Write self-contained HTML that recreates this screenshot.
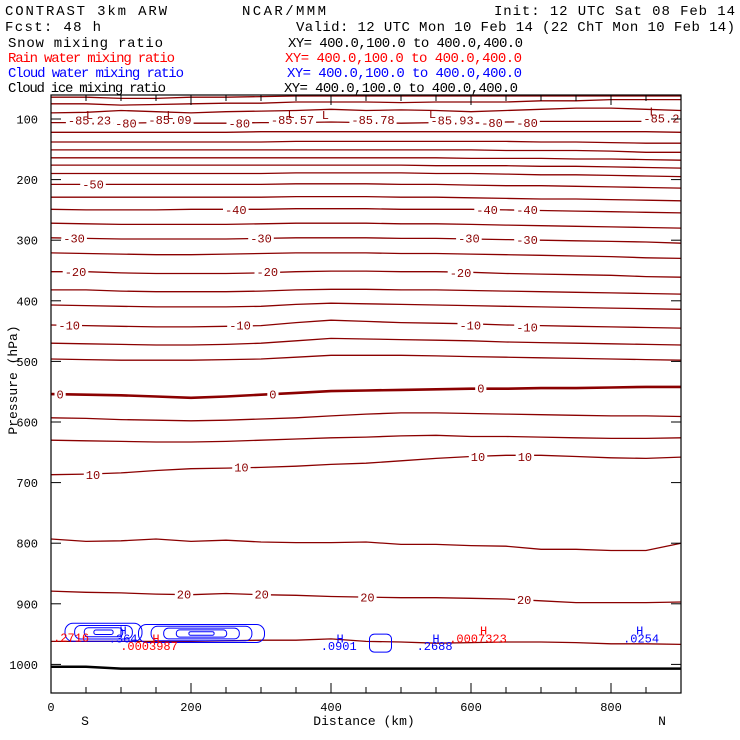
<!DOCTYPE html>
<html><head><meta charset="utf-8"><style>
html,body{margin:0;padding:0;background:#fff;}
svg{display:block;font-family:"Liberation Mono","DejaVu Sans Mono",monospace;}
</style></head><body>
<svg id="chart" width="740" height="740" viewBox="0 0 740 740" xmlns="http://www.w3.org/2000/svg">
<g font-size="14" fill="#000">
<text x="5" y="15" textLength="162">CONTRAST  3km ARW</text>
<text x="242" y="15" textLength="84">NCAR/MMM</text>
<text x="494" y="15" textLength="241">Init: 12 UTC Sat 08 Feb 14</text>
<text x="5" y="31" textLength="96">Fcst:   48 h</text>
<text x="296" y="31" textLength="439">Valid: 12 UTC Mon 10 Feb 14 (22 ChT Mon 10 Feb 14)</text>
<text x="8" y="47" textLength="155">Snow mixing ratio</text>
<text x="288" y="47" textLength="235">XY= 400.0,100.0 to 400.0,400.0</text>
<text x="8" y="62" textLength="167" fill="#ff0000">Rain water mixing ratio</text>
<text x="285" y="62" textLength="237" fill="#ff0000">XY= 400.0,100.0 to 400.0,400.0</text>
<text x="8" y="77" textLength="176" fill="#0000ff">Cloud water mixing ratio</text>
<text x="287" y="77" textLength="235" fill="#0000ff">XY= 400.0,100.0 to 400.0,400.0</text>
<text x="8" y="92" textLength="158">Cloud ice mixing ratio</text>
<text x="284" y="92" textLength="234">XY= 400.0,100.0 to 400.0,400.0</text>
</g>
<g id="plot"></g>
</svg>
<script>
const distances=[0,50,100,150,200,250,300,350,400,450,500,550,600,650,700,750,800,850,900];
const xTicks=[0,200,400,600,800];
const yTicks=[100,200,300,400,500,600,700,800,900,1000];
const line1=[64,64,66,66,64,64,63,62,62,62,62,62,62,62,62,62,62,62,62];
const line2=[75,75,77,76,75,74,74,72,72,72,73,72,72,72,70,70,68,68,68];
const line3=[90,89,86,88,90,88,87,86,84,86,85,86,88,86,84,82,82,84,86];
const line4=[106,106,107,106,107,107,106,106,105,106,107,106,107,105,104,104,104,104,104];
const line5=[122,122,122,122,122,122,121,121,121,121,121,121,121,121,121,121,121,121,122];
const line6=[138,138,138,138,138,138,138,137,137,137,137,137,137,137,138,138,139,140,140];
const line7=[151,151,151,151,151,151,151,151,151,151,151,151,151,152,152,152,153,155,155];
const line8=[164,164,164,164,164,164,164,164,164,164,164,164,165,165,165,166,166,167,168];
const line9=[176,176,176,176,176,176,176,176,176,176,176,177,177,177,178,178,179,180,181];
const line10=[190,190,190,190,190,190,190,189,189,189,189,190,190,191,192,192,193,194,195];
const line11=[208,208,208,208,208,208,208,207,207,207,208,208,209,210,210,211,212,213,214];
const line12=[229,229,229,229,229,229,229,228,228,228,229,229,230,231,232,232,233,234,235];
const line13=[249,250,250,250,249,249,249,248,248,248,249,249,249,250,251,252,253,254,255];
const line14=[272,273,274,274,274,274,273,272,272,272,273,273,274,275,276,277,278,279,280];
const line15=[296,297,298,298,298,298,297,296,296,296,297,297,298,299,300,301,302,303,305];
const line16=[321,322,323,324,324,323,322,321,321,321,322,322,323,324,325,326,327,329,330];
const line17=[352,352,354,355,355,355,354,352,351,351,352,352,353,355,356,357,358,360,361];
const line18=[382,382,384,385,385,385,384,382,381,381,382,382,383,384,385,386,387,388,389];
const line19=[407,408,409,410,410,410,409,406,404,405,406,407,408,409,410,411,412,413,414];
const line20=[440,441,442,443,443,442,441,436,432,434,436,437,438,440,441,442,443,444,445];
const line21=[470,471,472,473,473,472,470,466,462,463,464,465,466,468,469,470,471,472,473];
const line22=[496,497,498,498,498,497,496,493,490,490,490,491,492,493,494,495,496,497,498];
const line0=[554,555,556,558,560,558,555,552,549,548,547,546,545,545,544,544,543,542,542];
const line24=[593,594,596,597,598,597,595,593,590,587,585,585,586,587,588,589,590,590,591];
const line25=[630,631,632,633,633,632,630,628,626,625,623,622,624,624,625,626,627,627,626];
const line26=[687,686,684,680,677,676,675,673,670,668,664,660,657,655,655,657,659,660,658];
const line27=[793,797,796,793,797,795,798,799,799,798,802,802,804,805,810,810,812,812,800];
const line28=[879,881,882,884,885,883,885,886,888,889,890,890,891,892,895,898,898,898,897];
const line29=[962,962,962,962,962,961,960,960,958,962,963,965,964,963,963,964,966,966,967];
const surface=[1004,1004,1007,1007,1007,1007,1007,1007,1007,1007,1007,1007,1007,1007,1007,1007,1007,1007,1007];
const isoLines=[line1,line2,line3,line4,line5,line6,line7,line8,line9,line10,line11,line12,line13,line14,line15,line16,line17,line18,line19,line20,line21,line22,line0,line24,line25,line26,line27,line28,line29];
const labelTexts=["-85.23","-80","-85.09","-80","-85.57","-85.78","-85.93","-80","-80","-85.2","-50","-40","-40","-40","-30","-30","-30","-30","-20","-20","-20","-10","-10","-10","-10","0","0","0","10","10","10","10","20","20","20","20"];
const labelDist=[55,107,170,269,345,460,573,630,680,872,60,264,623,680,33,300,597,680,35,309,585,26,270,599,680,13,317,614,60,272,610,677,190,301,452,676];
const labelPres=[102,107,101,107,101,101,102,106,106,98,207,249,249,249,296,296,296,299,352,352,353,440,440,440,443,554,554,544,687,674,657,657,884,884,889,893];
const lowDist=[55,170,343,392,545,860];
const lowPres=[93,93,92,93,92,88];
const cloudCenters=[75,215];
const cloudWidths=[55,90];
const cloudPres=[947,949];
const cloudLevels=[4,5];
const markText=["H",".364","H",".0901","H",".2688","H",".0254"];
const markDist=[103,103,413,411,550,548,841,843];
const markPres=[944,957,957,970,957,970,944,957];
const redText=["H",".0003987","H",".0007323",".2716"];
const redDist=[150,140,618,610,3];
const redPres=[957,970,944,957,956];

const NS="http://www.w3.org/2000/svg";
const plot=document.getElementById('plot');
const X0=51,X1=681,Y0=95,Y1=693;
const xs=d=>X0+d*0.7;
const ys=p=>119+(p-100)*0.606;
function mk(tag,attrs){const e=document.createElementNS(NS,tag);for(const k in attrs)e.setAttribute(k,attrs[k]);plot.appendChild(e);return e;}
function path(arr){return arr.map((p,i)=>(i?'L':'M')+xs(distances[i]).toFixed(1)+' '+ys(p).toFixed(1)).join(' ');}

isoLines.forEach((arr,i)=>{
  const e=mk('path',{d:path(arr),fill:'none',stroke:'#8b0000','stroke-width':arr===line0?2.6:1.3});
  
  
});
const sf=mk('path',{d:path(surface),fill:'none',stroke:'#000','stroke-width':2.5});



cloudCenters.forEach((c,i)=>{
  for(let k=0;k<cloudLevels[i];k++){
    const f=1-k/cloudLevels[i];
    const e=mk('rect',{x:xs(c-cloudWidths[i]*f),y:ys(cloudPres[i])-9*f,width:cloudWidths[i]*2*f*0.7,height:18*f,rx:8*f,fill:'none',stroke:'#0000ff','stroke-width':1});
    
    
  }
});
const c3=mk('rect',{x:xs(455),y:ys(950),width:22,height:18,rx:5,fill:'none',stroke:'#0000ff','stroke-width':1});



labelTexts.forEach((t,i)=>{
  const x=xs(labelDist[i]),y=ys(labelPres[i]);
  const w=t.length*7.2;
  const b=mk('rect',{x:x-w/2-2,y:y-6,width:w+4,height:12,fill:'#fff'});
  
  
  const e=mk('text',{x:x,y:y+4.5,'text-anchor':'middle','font-size':12,fill:'#8b0000'});
  e.textContent=t;
  
  
});
lowDist.forEach((d,i)=>{
  const e=mk('text',{x:xs(d),y:ys(lowPres[i])+4,'text-anchor':'middle','font-size':12,fill:'#8b0000'});
  e.textContent='L';
  
  
});
markText.forEach((t,i)=>{
  const e=mk('text',{x:xs(markDist[i]),y:ys(markPres[i])+4,'text-anchor':'middle','font-size':12,fill:'#0000ff'});
  e.textContent=t;
  
  
});
redText.forEach((t,i)=>{
  const e=mk('text',{x:xs(redDist[i]),y:ys(redPres[i])+4,'text-anchor':i==4?'start':'middle','font-size':12,fill:'#ff0000'});
  e.textContent=t;
  
  
});

const frame=mk('rect',{x:X0,y:Y0,width:X1-X0,height:Y1-Y0,fill:'none',stroke:'#000','stroke-width':1.2});


for(let d=0;d<=900;d+=50){
  const L=d%200===0?10:6;
  const t1=mk('line',{x1:xs(d),x2:xs(d),y1:Y1,y2:Y1-L,stroke:'#000'});
  
  
  const t2=mk('line',{x1:xs(d),x2:xs(d),y1:Y0,y2:Y0+L,stroke:'#000'});
  
  
}
xTicks.forEach(d=>{
  const e=mk('text',{x:xs(d),y:711,'text-anchor':'middle','font-size':12});
  e.textContent=d;
  
  
});
yTicks.forEach(p=>{
  const t1=mk('line',{x1:X0,x2:X0+10,y1:ys(p),y2:ys(p),stroke:'#000'});
  
  
  const t2=mk('line',{x1:X1,x2:X1-10,y1:ys(p),y2:ys(p),stroke:'#000'});
  
  
  const e=mk('text',{x:38,y:ys(p)+4.5,'text-anchor':'end','font-size':12});
  e.textContent=p;
  
  
});
const s=mk('text',{x:85,y:725,'text-anchor':'middle','font-size':13});s.textContent='S';


const n=mk('text',{x:662,y:725,'text-anchor':'middle','font-size':13});n.textContent='N';


const xt=mk('text',{x:364,y:725,'text-anchor':'middle','font-size':13});xt.textContent='Distance (km)';


const yt=mk('text',{x:17,y:380,'text-anchor':'middle','font-size':13,transform:'rotate(-90 17 380)'});yt.textContent='Pressure (hPa)';


</script>
</body></html>
